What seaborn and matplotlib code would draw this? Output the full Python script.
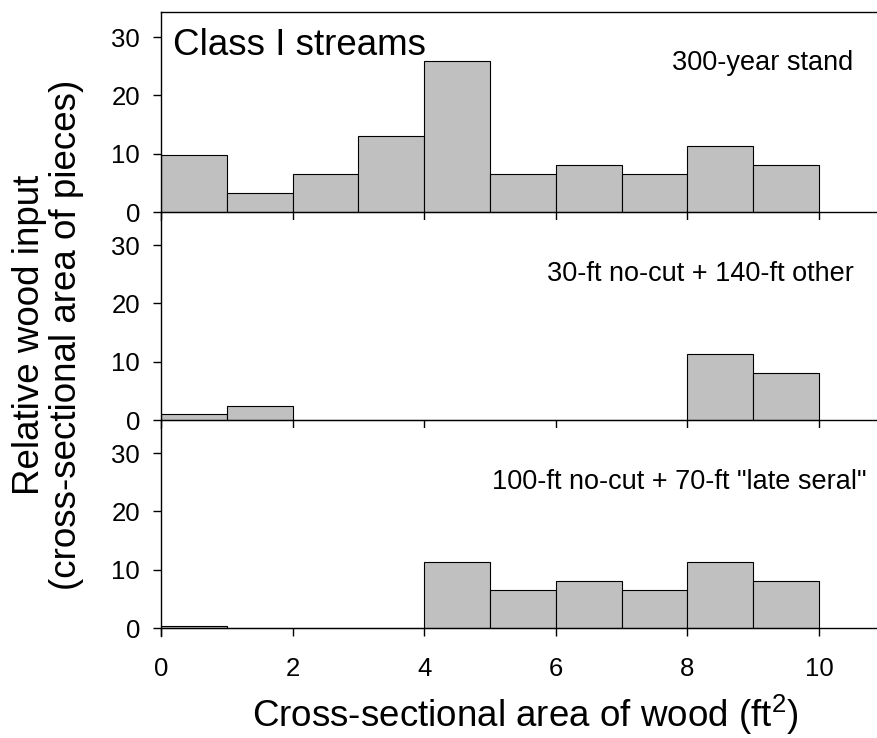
import numpy as np
import pandas as pd
import matplotlib
matplotlib.use("Agg")
import matplotlib.pyplot as plt
import seaborn as sns

# ---- data ----
bin_left = [0, 1, 2, 3, 4, 5, 6, 7, 8, 9]
stand_300yr = [9.7, 3.2, 6.5, 13.0, 25.9, 6.5, 8.1, 6.5, 11.3, 8.1]
nocut30_other140 = [1.1, 2.4, 0, 0, 0, 0, 0, 0, 11.3, 8.1]
nocut100_lateseral70 = [0.4, 0, 0, 0, 11.3, 6.5, 8.1, 6.5, 11.3, 8.1]
panel_labels = ["300-year stand", "30-ft no-cut + 140-ft other",
                "100-ft no-cut + 70-ft \"late seral\""]
x_ticks = [0, 2, 4, 6, 8, 10]
y_ticks = [0, 10, 20, 30]

sns.set_theme(style="white")
plt.rcParams["font.family"] = ["Liberation Sans", "DejaVu Sans"]
plt.rcParams["text.color"] = "black"
plt.rcParams["axes.labelcolor"] = "black"
plt.rcParams["xtick.color"] = "black"
plt.rcParams["ytick.color"] = "black"
plt.rcParams["mathtext.fontset"] = "custom"
plt.rcParams["mathtext.rm"] = "Liberation Sans"
plt.rcParams["mathtext.it"] = "Liberation Sans"
plt.rcParams["mathtext.default"] = "regular"

W, H = 877, 738
fig = plt.figure(figsize=(W / 100, H / 100), dpi=100)

left_px, right_px = 161, 877
panel_h = 208
tops = [12, 220, 428]
series = [stand_300yr, nocut30_other140, nocut100_lateseral70]
label_pos = [(0.9665, 0.721), (0.968, 0.707), (0.986, 0.707)]

for i, (top, vals) in enumerate(zip(tops, series)):
    ax = fig.add_axes([left_px / W, 1 - (top + panel_h) / H,
                       (right_px - left_px) / W, panel_h / H])
    df = pd.DataFrame({"x": np.array(bin_left, dtype=float) + 0.5,
                       "w": np.array(vals, dtype=float)})
    sns.histplot(data=df, x="x", weights="w", binwidth=1, binrange=(0, 10),
                 ax=ax, color="#c0c0c0", edgecolor="black", linewidth=0.8,
                 alpha=1.0, element="bars")
    ax.set_xlim(0, 10.88)
    ax.set_ylim(-1.37, 34.3)
    ax.set_xticks(x_ticks)
    ax.set_yticks(y_ticks)
    ax.set_xlabel("")
    ax.set_ylabel("")
    ax.spines["bottom"].set_position(("data", 0))
    ax.spines["right"].set_visible(False)
    ax.spines["top"].set_visible(i == 0)
    for s in ax.spines.values():
        s.set_color("black")
        s.set_linewidth(1.0)
    ax.tick_params(axis="y", direction="out", length=6, width=1, pad=9,
                   labelsize=18.5, colors="black", left=True)
    ax.tick_params(axis="x", direction="out", length=6, width=1, pad=15,
                   labelsize=18.5, colors="black", bottom=True,
                   labelbottom=(i == 2))
    ax.text(label_pos[i][0], label_pos[i][1], panel_labels[i],
            transform=ax.transAxes, ha="right", va="baseline", fontsize=19.5,
            color="black")
    if i == 0:
        ax.text(0.0168, 0.793, "Class I streams", transform=ax.transAxes,
                ha="left", va="baseline", fontsize=26.5, color="black")
    ax.set_facecolor("white")

fig.text(525 / W, 1 - 727 / H, "Cross-sectional area of wood (ft$^2$)",
         ha="center", va="baseline", fontsize=26.5, color="black")
fig.text(48 / W, 1 - 335 / H,
         "Relative wood input\n(cross-sectional area of pieces)",
         rotation=90, ha="center", va="center", multialignment="center",
         fontsize=26.5, linespacing=1.05, color="black")

fig.savefig("out.png", dpi=100, facecolor="white")
